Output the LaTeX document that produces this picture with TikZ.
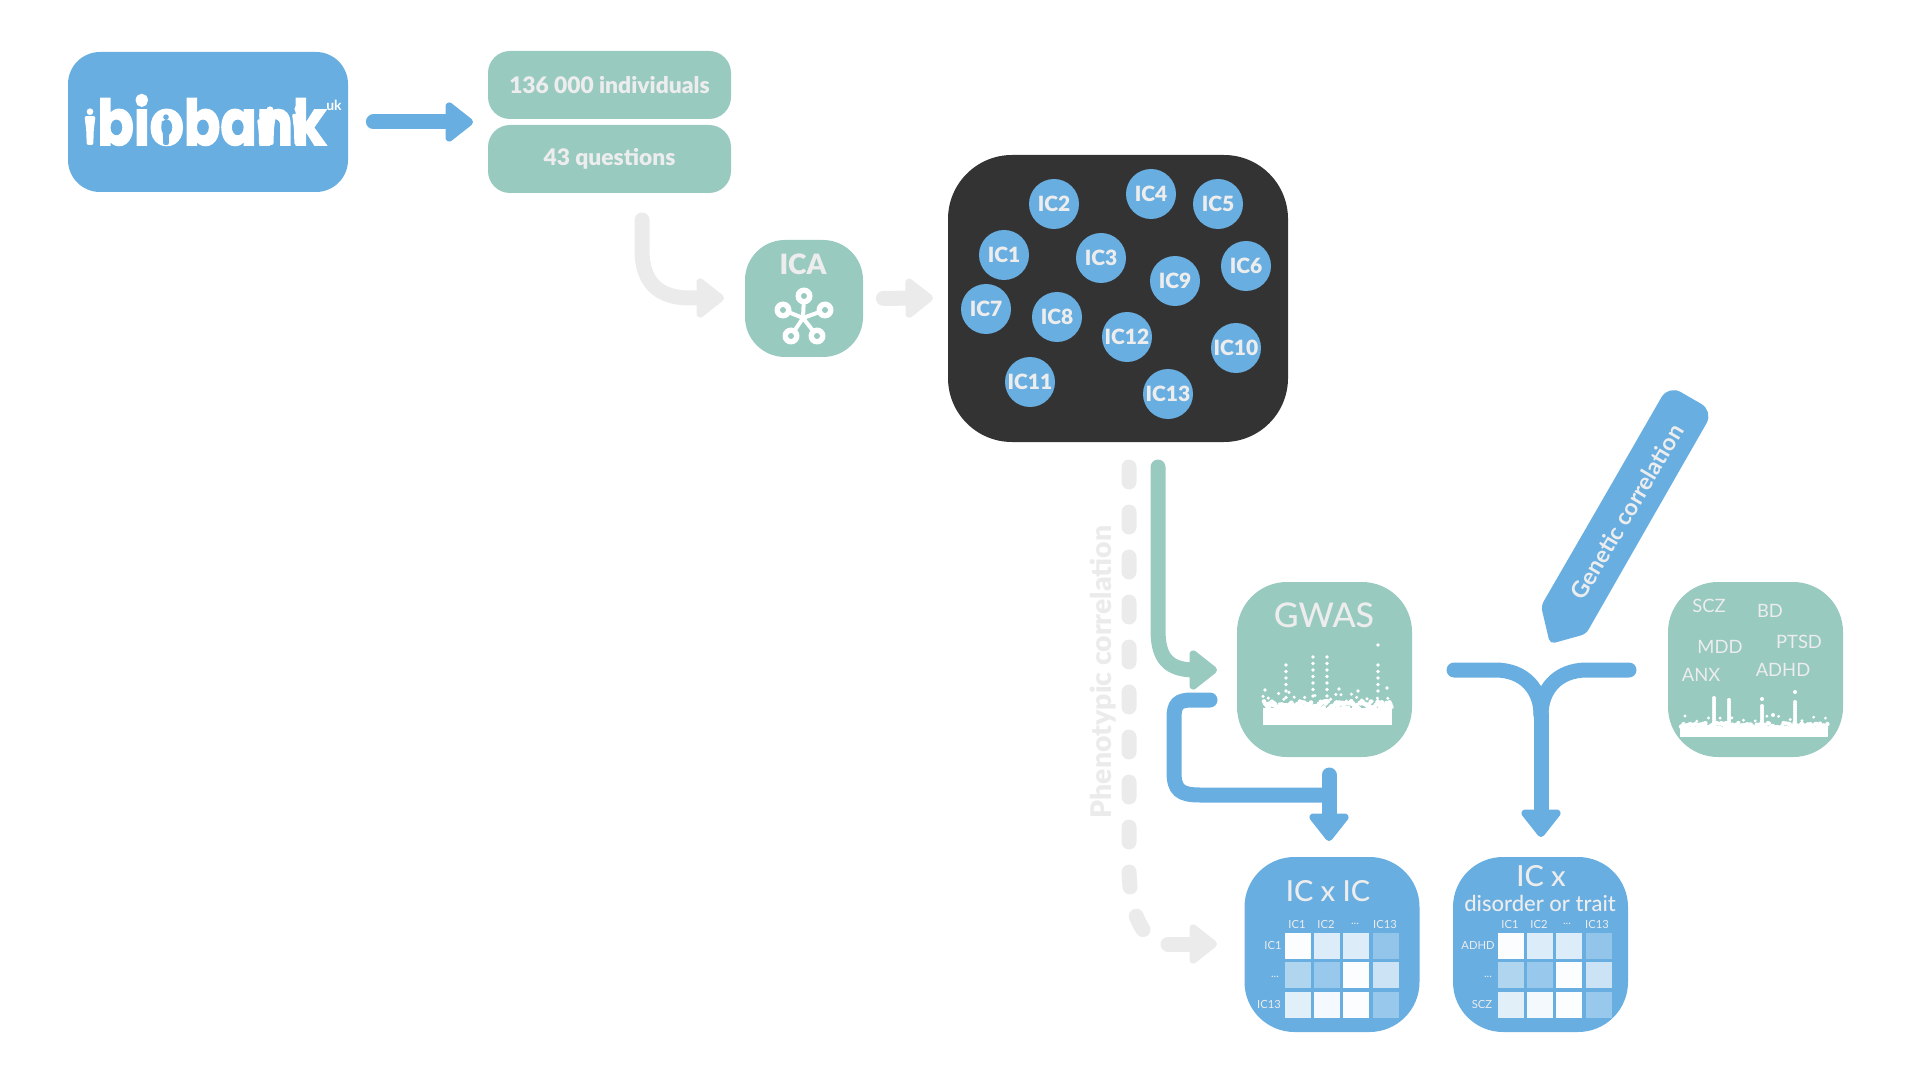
\documentclass[tikz,border=0pt]{standalone}
\usepackage{fontspec}
\setmainfont{Lato}
\newfontfamily\logofont{Poppins}[BoldFeatures={FakeBold=2.5}]
\newfontfamily\heavyfont{Lato Black}
\newfontfamily\midfont{Lato Medium}
\usetikzlibrary{arrows.meta}

\definecolor{iblue}{HTML}{68AEE1}
\definecolor{igreen}{HTML}{98CAC0}
\definecolor{idark}{HTML}{333333}
\definecolor{itext}{HTML}{EDEDED}
\definecolor{ilink}{HTML}{EBEBEB}

\newcommand{\fs}[1]{\fontsize{#1}{#1}\selectfont}

\tikzset{
  every node/.style={text=itext, inner sep=0pt, align=center},
  roundbox/.style={rounded corners=#1, minimum width=87.5pt, minimum height=87.5pt},
  greenbox/.style={roundbox=25pt, fill=igreen},
  bluebox/.style={roundbox=25pt, fill=iblue},
  icdot/.style={circle, fill=iblue, minimum size=25pt, font=\fs{10.5}\heavyfont},
  title/.style={font=\fs{14.5}\midfont},
  small/.style={font=\fs{5.6}},
  trait/.style={font=\fs{9.2}},
  link/.style={line width=7.5pt, line cap=round,
    -{Triangle[length=15pt, width=22.5pt, round, line width=5pt]}},
  plain/.style={line width=7.5pt, line cap=round}
}

\newcommand{\heatgrid}[2]{
  \foreach \cx/\cy/\cv in {0/0/98, 29/0/77, 58/0/77, 88/0/28,
                           0/29/48, 29/29/32, 58/29/98, 88/29/66,
                           0/59/80, 29/59/92, 58/59/98, 88/59/32}
    \fill [white!\cv!iblue] (#1+\cx,#2+\cy) rectangle +(25.5,25.5);
}

\begin{document}
\begin{tikzpicture}[x=0.5pt,y=-0.5pt]

\useasboundingbox (0,0) rectangle (1920,1080);

\node [roundbox=16pt, fill=iblue, minimum width=140pt, minimum height=70pt] (biobank) at (208,122) {};
\node [roundbox=11pt, fill=igreen, minimum width=121.5pt, minimum height=34pt, font=\fs{11.4}\heavyfont] (individuals) at (609.5,85) {136 000 individuals};
\node [roundbox=11pt, fill=igreen, minimum width=121.5pt, minimum height=34pt, font=\fs{11.4}\heavyfont] (questions) at (609.5,159) {43 questions};
\node [roundbox=20pt, fill=igreen, minimum width=59pt, minimum height=58.5pt] (ica) at (804,298.5) {};
\node [roundbox=32pt, fill=idark, minimum width=170pt, minimum height=143.5pt] (ics) at (1118,298.5) {};
\node [greenbox] (gwas) at (1324.5,669.5) {};
\node [greenbox] (traits) at (1755.5,669.5) {};
\node [bluebox] (icxic) at (1332,944.5) {};
\node [bluebox] (icxtrait) at (1540.5,944.5) {};

\node [anchor=base west, text=white, font=\logofont\bfseries\fs{30}] (logo) at (97,145) {\scalebox{.895}[1.05]{biobank}};
\node [text=white, font=\fs{7}\bfseries] (uk) at (334,105) {uk};

\foreach \mx/\my/\mh/\mc in {90/145/37/white, 166/145/31/iblue, 262/145/33/white, 270/145/39/white, 298/145/40/white}
{
    \fill [\mc] (\mx,\my-\mh*.9) circle ({\mh*.09});
    \fill [\mc, rounded corners=1pt] (\mx-\mh*.15,\my-\mh*.78) -- (\mx+\mh*.15,\my-\mh*.78) -- (\mx+\mh*.1,\my-\mh*.4) -- (\mx+\mh*.09,\my) -- (\mx-\mh*.09,\my) -- (\mx-\mh*.1,\my-\mh*.4) -- cycle;
}

\node [font=\fs{14}\heavyfont] (icatitle) at (803,264) {ICA};

\coordinate (hub) at (803,318);
\foreach \i/\rx/\ry in {1/804/296, 2/783/310, 3/825/310, 4/791/336, 5/817/336}
{
    \coordinate (ring\i) at (\rx,\ry);
    \draw [white, line width=2pt] (hub) -- (ring\i);
    \fill [white] (ring\i) circle (8.5);
}
\foreach \i in {1,...,5}
    \fill [igreen] (ring\i) circle (3);

\foreach \ic/\xx/\yy in {IC1/1004/255, IC2/1054/204, IC3/1101/258, IC4/1151/194, IC5/1218/204,
    IC6/1246/266, IC7/986/309, IC8/1057/317, IC9/1175/281, IC10/1236/348,
    IC11/1030/382, IC12/1127/337, IC13/1168/394}
    \node [icdot] (\ic) at (\xx,\yy) {\ic};

\coordinate (countsgap) at (473,122);
\coordinate (qout) at (642,220);
\coordinate (icain) at (724,298);
\coordinate (icsin) at (933,298);
\coordinate (gwasin) at (1217,670);
\coordinate (gstart) at (1158,467);
\coordinate (pstart) at (1129,467);
\coordinate (pend) at (1146,934);
\coordinate (pnext) at (1168,944);
\coordinate (pairin) at (1217,944);
\coordinate (bstart) at (1210,700);
\coordinate (bjoin) at (1329,795);
\coordinate (btop) at (1329,775);
\coordinate (icxicin) at (1329,841);
\coordinate (yleft) at (1454,670);
\coordinate (yright) at (1629,670);
\coordinate (ymid) at (1541,715);
\coordinate (ytraitin) at (1541,837);

\draw [link, iblue, shorten <=12.5pt] (biobank.east) -- (countsgap);
\draw [link, ilink] (qout) -- (642,250) .. controls (642,282) and (658,298) .. (690,298) -- (icain);
\draw [link, ilink, shorten <=10pt] (ica.east) -- (icsin);
\draw [link, igreen] (gstart) -- (1158,630) .. controls (1158,658) and (1168,670) .. (1195,670) -- (gwasin);
\draw [plain, ilink, dash pattern=on 7.5pt off 15pt] (pstart) -- (1129,870) .. controls (1130,905) and (1136,920) .. (pend);
\draw [link, ilink] (pnext) -- (pairin);
\draw [plain, iblue] (bstart) -- (1192,700) .. controls (1178,700) and (1174,704) .. (1174,718) -- (1174,772) .. controls (1174,790) and (1180,795) .. (1200,795) -- (bjoin);
\draw [link, iblue] (btop) -- (icxicin);
\draw [plain, iblue] (yleft) -- (1495,670) .. controls (1525,670) and (1541,690) .. (ymid);
\draw [plain, iblue] (yright) -- (1587,670) .. controls (1557,670) and (1541,690) .. (ymid);
\draw [link, iblue] (ymid) -- (ytraitin);

\node [rotate=90, text=ilink, font=\fs{14.2}\heavyfont] (phenotypic) at (1103,672) {Phenotypic correlation};

\fill [iblue, rounded corners=7pt] (1600,504) -- (1668.5,385) -- (1713.5,411) -- (1650,522) [rounded corners=2.5pt] -- (1586,634) -- (1550,644) -- (1541,606) -- cycle;
\node [rotate=59.5, font=\fs{11.6}\bfseries] (genetic) at (1627,512) {Genetic correlation};

\node [font=\fs{17}\midfont] (gwastitle) at (1324,615) {GWAS};

\pgfmathsetseed{11}
\fill [white] (1263,708) rectangle (1392,725);
\foreach \i in {0,...,130}
    \fill [white] ({1264+.98*\i},{709-rnd*8}) circle (2.3);
\foreach \i in {0,...,24}
    \fill [white] ({1263+5.2*\i},{704-rnd*13}) circle (1.7);
\foreach \px/\top/\n in {1286/665/5, 1313/657/6, 1327/657/6, 1378/665/4}
    \foreach \j in {0,...,\n}
        \fill [white] (\px,\top+\j*6.5) circle (1.9);
\foreach \px/\py in {1265/690, 1378/645, 1339/689, 1358/691, 1387/688}
    \fill [white] (\px,\py) circle (1.8);

\node [trait] (scz) at (1709,606) {SCZ};
\node [trait] (bd) at (1770,611) {BD};
\node [trait] (ptsd) at (1799,642) {PTSD};
\node [trait] (mdd) at (1720,647) {MDD};
\node [trait] (adhd) at (1783,670) {ADHD};
\node [trait] (anx) at (1701,675) {ANX};

\fill [white] (1680,727) rectangle (1828,737);
\foreach \i in {0,...,120}
    \fill [white] ({1681+1.22*\i},{728-rnd*5}) circle (2.2);
\foreach \i in {0,...,12}
    \fill [white] ({1685+11.7*\i},{722-rnd*6}) circle (1.6);
\foreach \px/\top/\n in {1714/698/12, 1729/700/11, 1762/706/8, 1795/702/11}
    \foreach \j in {0,...,\n}
        \fill [white] (\px,\top+\j*2.4) circle (2);
\foreach \px/\py in {1762/699, 1795/692, 1773/715}
    \fill [white] (\px,\py) circle (2);

\node [title] (icxictitle) at (1328,891) {IC x IC};
\heatgrid{1285}{933}
\node [small] (h1) at (1297,924) {IC1};
\node [small] (h2) at (1326,924) {IC2};
\node [small] (h3) at (1355,924) {...};
\node [small] (h4) at (1385,924) {IC13};
\node [small] (r1) at (1273,945) {IC1};
\node [small] (r2) at (1275,977) {...};
\node [small] (r3) at (1269,1004) {IC13};

\node [title] (icxtraittitle) at (1541,876) {IC x};
\node [font=\fs{11}\midfont] (disorder) at (1540,903) {disorder or trait};
\heatgrid{1498}{933}
\node [small] (t1) at (1510,924) {IC1};
\node [small] (t2) at (1539,924) {IC2};
\node [small] (t3) at (1567,924) {...};
\node [small] (t4) at (1597,924) {IC13};
\node [small] (s1) at (1478,945) {ADHD};
\node [small] (s2) at (1488,977) {...};
\node [small] (s3) at (1482,1004) {SCZ};

\end{tikzpicture}
\end{document}
